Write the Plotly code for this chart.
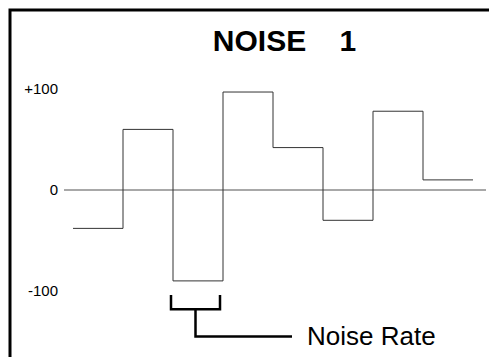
import numpy as np
import plotly.graph_objects as go

# step levels of the noise signal, one per interval
step_x = [0, 1, 2, 3, 4, 5, 6, 7, 8]
step_levels = [-38, 60, -90, 97, 42, -30, 78, 10]

tick_vals = [-100, 0, 100]
tick_text = ["-100", "0", "+100"]

title_text = "NOISE\u00a0\u00a0\u00a0\u00a01"
label_text = "Noise Rate"

FONT = "Liberation Sans, Arial, sans-serif"
W, H = 497, 357
L, R = 56, 19          # plot area margins (px)
ZERO_PX = 182          # vertical pixel of the zero level
PX_PER_UNIT = 1.01

fig = go.Figure()

# the step trace (last level repeated to close the final step)
fig.add_trace(
    go.Scatter(
        x=step_x,
        y=step_levels + [step_levels[-1]],
        mode="lines",
        line=dict(color="#333333", width=1, shape="hv"),
        hoverinfo="skip",
    )
)

# bracket under the lowest step, leading to the label
i = int(np.argmin(step_levels))
lo = step_levels[i]
bx0, bx1 = step_x[i] - 0.04, step_x[i + 1] - 0.06
bmid = (bx0 + bx1) / 2
top, base, foot = lo - 14, lo - 28, lo - 55
fig.add_trace(
    go.Scatter(
        x=[bx0, bx0, bx1, bx1, None, bmid, bmid, 4.38],
        y=[top, base, base, top, None, base, foot, foot],
        mode="lines",
        line=dict(color="black", width=2.5),
        hoverinfo="skip",
    )
)

fig.add_annotation(
    x=4.64, y=foot, text=label_text, showarrow=False,
    xanchor="left", yanchor="middle",
    font=dict(family=FONT, size=26, color="black"),
)

# frame around the figure, running off the right and bottom edges
pw = W - L - R
fig.add_shape(
    type="rect", xref="paper", yref="paper",
    x0=(2 - L) / pw, x1=1.2, y0=-0.2, y1=1 - 2 / H,
    line=dict(color="black", width=3),
)

fig.update_layout(
    width=W, height=H,
    margin=dict(l=L, r=R, t=0, b=0),
    paper_bgcolor="white", plot_bgcolor="white",
    showlegend=False,
    title=dict(
        text=f"<b>{title_text}</b>", x=276.5 / W, xanchor="center",
        y=1 - 32 / H, yanchor="middle", xref="container", yref="container",
        font=dict(family=FONT, size=30, color="black"),
    ),
)
fig.update_xaxes(
    range=[-0.18, 8.26], showgrid=False, zeroline=False,
    showticklabels=False, showline=False,
)
fig.update_yaxes(
    range=[(ZERO_PX - H) / PX_PER_UNIT, ZERO_PX / PX_PER_UNIT], showgrid=False,
    zeroline=True, zerolinecolor="#a8a8a8", zerolinewidth=1.5,
    tickvals=tick_vals, ticktext=tick_text, showline=False,
    ticks="outside", ticklen=2, tickcolor="rgba(0,0,0,0)",
    tickfont=dict(family=FONT, size=15, color="black"),
    automargin=False,
)

fig.write_html("out.html")
